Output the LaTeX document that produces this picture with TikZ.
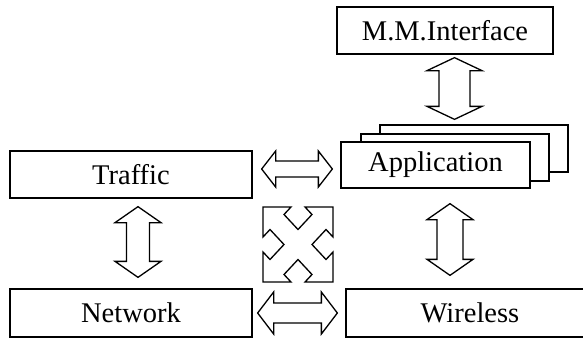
\documentclass[tikz,border=0pt]{standalone}
\usepackage{fontspec}
\setmainfont{Liberation Serif}
\usetikzlibrary{calc}

\tikzset{
  box/.style={draw, line width=1.3pt, fill=white, inner sep=0pt,
    font=\fontsize{28.5}{31}\selectfont, minimum height=47pt},
  arrowline/.style={draw, line width=1.3pt, line join=miter, fill=white},
}

% Hollow two-way block arrow between tips #1 and #2:
% #3 head length, #4 half width of the heads, #5 half width of the shaft
\newcommand\twowayarrow[5]{%
  \path[arrowline] (#1)
    -- ($($(#1)!#3!(#2)$)!#4!90:(#2)$)
    -- ($($(#1)!#3!(#2)$)!#5!90:(#2)$)
    -- ($($(#2)!#3!(#1)$)!#5!-90:(#1)$)
    -- ($($(#2)!#3!(#1)$)!#4!-90:(#1)$)
    -- (#2)
    -- ($($(#2)!#3!(#1)$)!#4!90:(#1)$)
    -- ($($(#2)!#3!(#1)$)!#5!90:(#1)$)
    -- ($($(#1)!#3!(#2)$)!#5!-90:(#2)$)
    -- ($($(#1)!#3!(#2)$)!#4!-90:(#2)$)
    -- cycle;}

\begin{document}
\begin{tikzpicture}[x=1pt,y=-1pt]
\useasboundingbox[fill=white] (0,0) rectangle (583,338);
\begin{scope}
\clip (0,0) rectangle (583,338);

% boxes
\node[box, minimum width=216pt] (mm) at (445,30.5) {M.M.Interface};
\node[box, minimum width=242pt] (traffic) at (131,174.5) {Traffic};
\node[box, minimum width=242pt, minimum height=48pt] (network) at (131,313) {Network};
\node[box, minimum width=248pt, minimum height=48pt] (wireless) at (470,313) {Wireless};

% stacked application boxes
\node[box, minimum width=188pt] (back) at (474,148.5) {};
\node[box, minimum width=188pt] (middle) at (455,157.5) {};
\node[box, minimum width=189pt, minimum height=46pt] (app) at (435.5,165) {Application};

% arrow end points
\coordinate (mmT) at ($(mm.south)+(9.5,3)$);
\coordinate (mmB) at ($(mmT |- back.north)+(0,-5)$);
\coordinate (trT) at ($(traffic.south)+(7,8)$);
\coordinate (trB) at ($(trT |- network.north)+(0,-11)$);
\coordinate (apT) at ($(app.south)+(14.5,15)$);
\coordinate (apB) at ($(apT |- wireless.north)+(0,-13)$);
\coordinate (taL) at ($(traffic.east)+(9,-5.5)$);
\coordinate (taR) at ($(taL -| app.west)+(-8,0)$);
\coordinate (nwL) at ($(network.east)+(5,0)$);
\coordinate (nwR) at ($(wireless.west)+(-8,0)$);

% two-way arrows
\twowayarrow{mmT}{mmB}{13pt}{27.5pt}{15.5pt}
\twowayarrow{trT}{trB}{16pt}{23pt}{11.5pt}
\twowayarrow{apT}{apB}{16pt}{23pt}{13pt}
\twowayarrow{taL}{taR}{14pt}{18pt}{8pt}
\twowayarrow{nwL}{nwR}{16pt}{21pt}{10pt}

% four diagonal arrows in the middle
\begin{scope}[shift={(298,244.5)}, xscale=35, yscale=37.5]
  \path[arrowline]
    (-1,1) -- (-0.2,1) -- (-0.4,0.8) -- (0,0.4) -- (0.4,0.8) -- (0.2,1)
    -- (1,1) -- (1,0.2) -- (0.8,0.4) -- (0.4,0) -- (0.8,-0.4) -- (1,-0.2)
    -- (1,-1) -- (0.2,-1) -- (0.4,-0.8) -- (0,-0.4) -- (-0.4,-0.8) -- (-0.2,-1)
    -- (-1,-1) -- (-1,-0.2) -- (-0.8,-0.4) -- (-0.4,0) -- (-0.8,0.4) -- (-1,0.2)
    -- cycle;
\end{scope}
\end{scope}
\end{tikzpicture}
\end{document}
